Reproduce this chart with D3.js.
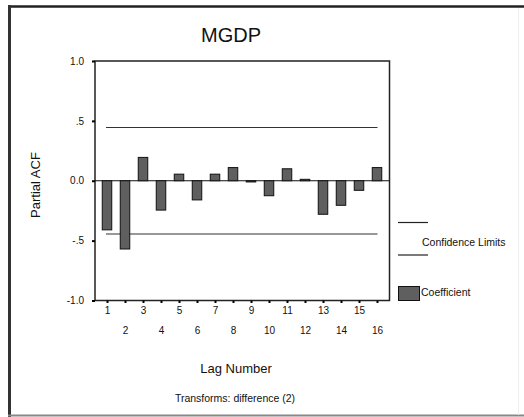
<!DOCTYPE html>
<html>
<head>
<meta charset="utf-8">
<script src="https://cdn.jsdelivr.net/npm/d3@7"></script>
<style>
  html, body { margin: 0; padding: 0; background: #fff; }
  svg { display: block; font-family: "Liberation Sans", Arial, sans-serif; }
</style>
</head>
<body>
<svg id="chart" width="524" height="417"></svg>
<script>
// Partial autocorrelation of MGDP after second differencing
const lags = [1, 2, 3, 4, 5, 6, 7, 8, 9, 10, 11, 12, 13, 14, 15, 16];
const coefficients = [-0.41, -0.57, 0.195, -0.245, 0.055, -0.16, 0.055, 0.11,
                       -0.01, -0.125, 0.10, 0.012, -0.28, -0.205, -0.08, 0.11];
const confidenceLimit = [0.445, -0.445];
const yTicks = [1.0, 0.5, 0.0, -0.5, -1.0];
const yTickLabels = ["1.0", ".5", "0.0", "-.5", "-1.0"];

const svg = d3.select("#chart");

// outer frame
svg.append("line").attr("x1", 8).attr("x2", 524).attr("y1", 6.5).attr("y2", 6.5)
  .attr("stroke", "#222").attr("stroke-width", 2.5);
svg.append("line").attr("x1", 9.5).attr("x2", 9.5).attr("y1", 5).attr("y2", 417)
  .attr("stroke", "#333").attr("stroke-width", 3);
svg.append("line").attr("x1", 8).attr("x2", 524).attr("y1", 415.5).attr("y2", 415.5)
  .attr("stroke", "#888").attr("stroke-width", 2);
svg.append("line").attr("x1", 518.5).attr("x2", 518.5).attr("y1", 8).attr("y2", 415)
  .attr("stroke", "#eee").attr("stroke-width", 1);

const plot = { left: 95, right: 389.5, top: 61, bottom: 300.5 };

const x = d3.scaleLinear().domain([1, 16]).range([107, 377]);
const y = d3.scaleLinear().domain([-1, 1]).range([plot.bottom, plot.top]);
const barWidth = 9.5;

// title
svg.append("text").attr("x", 231).attr("y", 42).attr("text-anchor", "middle")
  .attr("font-size", 20).attr("fill", "#111").text("MGDP");

// plot box
svg.append("rect").attr("x", plot.left).attr("y", plot.top)
  .attr("width", plot.right - plot.left).attr("height", plot.bottom - plot.top)
  .attr("fill", "none").attr("stroke", "#222").attr("stroke-width", 1.5);

// y axis
const yAxis = d3.axisLeft(y).tickValues(yTicks)
  .tickFormat((d, i) => yTickLabels[i]).tickSize(3).tickPadding(8);
const gy = svg.append("g").attr("transform", `translate(${plot.left},0)`).call(yAxis);
gy.select(".domain").remove();
gy.selectAll(".tick line").attr("stroke", "#000").attr("stroke-width", 2);
gy.selectAll(".tick text").attr("font-size", 10).attr("fill", "#111")
  .attr("font-family", "Liberation Sans, Arial, sans-serif");

// x axis: odd lags on the first row, even lags on the second
const xAxis = d3.axisBottom(x).tickValues(lags).tickFormat(d3.format("d"))
  .tickSize(2.5).tickPadding(2);
const gx = svg.append("g").attr("transform", `translate(0,${plot.bottom})`).call(xAxis);
gx.select(".domain").remove();
gx.selectAll(".tick line").attr("stroke", "#000").attr("stroke-width", 2);
gx.selectAll(".tick text").attr("font-size", 10).attr("fill", "#111")
  .attr("font-family", "Liberation Sans, Arial, sans-serif")
  .attr("dy", null)
  .attr("y", d => d % 2 === 1 ? 13 : 33);

// zero line
svg.append("line").attr("x1", plot.left).attr("x2", plot.right)
  .attr("y1", y(0)).attr("y2", y(0)).attr("stroke", "#111").attr("stroke-width", 1.2);

// confidence limits
svg.selectAll("line.conf").data(confidenceLimit).join("line").attr("class", "conf")
  .attr("x1", 106).attr("x2", 377.5)
  .attr("y1", d => y(d)).attr("y2", d => y(d))
  .attr("stroke", "#333").attr("stroke-width", 1.1);

// coefficient bars
svg.selectAll("rect.bar").data(lags).join("rect").attr("class", "bar")
  .attr("x", d => x(d) - barWidth / 2)
  .attr("width", barWidth)
  .attr("y", (d, i) => y(Math.max(0, coefficients[i])))
  .attr("height", (d, i) => Math.abs(y(coefficients[i]) - y(0)))
  .attr("fill", "#5f5f5f").attr("stroke", "#111").attr("stroke-width", 1);

// axis titles
svg.append("text").attr("transform", "translate(40,185) rotate(-90)")
  .attr("text-anchor", "middle").attr("font-size", 13).attr("fill", "#111")
  .text("Partial ACF");
svg.append("text").attr("x", 236).attr("y", 373).attr("text-anchor", "middle")
  .attr("font-size", 13).attr("fill", "#111").text("Lag Number");
svg.append("text").attr("x", 235).attr("y", 401.5).attr("text-anchor", "middle")
  .attr("font-size", 10.5).attr("fill", "#111").text("Transforms: difference (2)");

// legend
const legend = svg.append("g");
legend.selectAll("line").data([222.5, 255]).join("line")
  .attr("x1", 398).attr("x2", 428).attr("y1", d => d).attr("y2", d => d)
  .attr("stroke", "#222").attr("stroke-width", 1.2);
legend.append("text").attr("x", 422).attr("y", 245.5).attr("font-size", 10.5)
  .attr("fill", "#111").text("Confidence Limits");
legend.append("rect").attr("x", 398.5).attr("y", 286.5).attr("width", 21).attr("height", 14)
  .attr("fill", "#5f5f5f").attr("stroke", "#111").attr("stroke-width", 1);
legend.append("text").attr("x", 421).attr("y", 295.5).attr("font-size", 10.5)
  .attr("fill", "#111").text("Coefficient");
</script>
</body>
</html>
